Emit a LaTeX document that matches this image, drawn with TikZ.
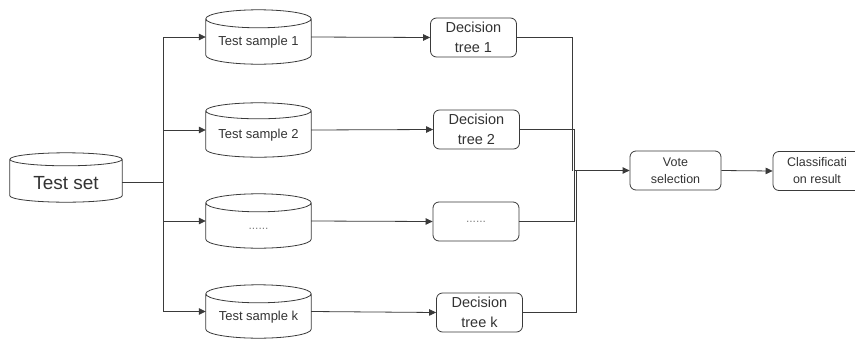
\documentclass[tikz,border=0pt]{standalone}
\usepackage{fontspec}
\setmainfont{Liberation Sans}
\usetikzlibrary{arrows.meta,calc}

\definecolor{inkline}{HTML}{3A3A3A}
\definecolor{inktext}{HTML}{333333}

\tikzset{
  line/.style={draw=inkline, line width=0.8pt},
  arrow/.style={line, -{Triangle[length=7pt,width=6.5pt]}},
  cylbody/.style={draw=none, inner sep=0pt, minimum width=105pt, minimum height=54pt,
    text=inktext, font=\fontsize{13}{15}\selectfont, text height=17pt, text depth=0pt},
  treebox/.style={draw=inkline, line width=0.8pt, rounded corners=6pt,
    minimum width=86pt, minimum height=39pt, inner sep=0pt, align=center,
    text=inktext, font=\fontsize{14.5}{19.5}\selectfont},
  votebox/.style={treebox, minimum width=91pt, font=\fontsize{12.5}{17}\selectfont},
  dots/.style={text=gray, font=\fontsize{12}{14}\selectfont},
}

% cylinder outline drawn around a named node: #1 node, #2 half height of the end ellipses
\newcommand\cylshape[2]{%
  \draw[line] let \p1=(#1.north west), \p2=(#1.south east), \n1={(\x2-\x1)/2} in
    (\x1,\y1-#2pt) -- (\x1,\y2+#2pt)
    arc[start angle=180, end angle=360, x radius=\n1, y radius=#2pt]
    -- (\x2,\y1-#2pt)
    arc[start angle=0, end angle=360, x radius=\n1, y radius=#2pt];
}

\begin{document}
\begin{tikzpicture}[x=1pt, y=1pt]
  \useasboundingbox (0,0) rectangle (855,-338);
  \clip (0,0) rectangle (855,-338);

  % data stores
  \node[cylbody, minimum width=112pt, minimum height=49pt,
        font=\fontsize{19}{22}\selectfont, text height=23.5pt] (set) at (66,-177.5) {Test set};
  \cylshape{set}{6.5}

  \node[cylbody] (s1) at (258.5,-37) {Test sample 1};
  \cylshape{s1}{9}
  \node[cylbody] (s2) at (258.5,-130) {Test sample 2};
  \cylshape{s2}{8}
  \node[cylbody, dots, text height=17pt, text depth=0pt] (s3) at (258.5,-221) {......};
  \cylshape{s3}{9}
  \node[cylbody, minimum height=53pt] (sk) at (258.5,-311.5) {Test sample k};
  \cylshape{sk}{9}

  % classifiers
  \node[treebox] (t1) at (473.5,-37.5) {Decision\\tree 1};
  \node[treebox] (t2) at (476.5,-129.5) {Decision\\tree 2};
  \node[treebox, dots] (t3) at (476,-221.5) {......};
  \node[treebox] (tk) at (479.5,-312.5) {Decision\\tree k};

  \node[votebox] (vote) at (675.5,-170.5) {Vote\\selection};
  \node[votebox, minimum width=88pt] (cls) at (817,-171) {Classificati\\on result};

  % split of the test set
  \coordinate (bus) at (163,-182.5);
  \draw[line, line width=1.2pt] ([yshift=-5pt]set.east) -- (bus);
  \draw[arrow] (bus) |- (s1.west);
  \draw[arrow] (bus) |- (s2.west);
  \draw[arrow] (bus) |- (s3.west);
  \draw[arrow] (bus) |- (sk.west);

  % samples into trees
  \draw[arrow] (s1.east) -- (t1.west);
  \draw[arrow] (s2.east) -- (t2.west);
  \draw[arrow] (s3.east) -- (t3.west);
  \draw[arrow] (sk.east) -- (tk.west);

  % tree outputs merged into the vote
  \coordinate (merge) at (574,-170.5);
  \draw[line] (t1.east) -| ([xshift=-1.3pt]merge);
  \draw[line] (t2.east) -| (merge);
  \draw[line] (t3.east) -| ([xshift=0.8pt]merge);
  \draw[line] (tk.east) -| ([xshift=2pt]merge);
  \draw[arrow, line width=1.1pt] (merge) -- (vote.west);
  \draw[arrow] (vote.east) -- (cls.west);
\end{tikzpicture}
\end{document}
